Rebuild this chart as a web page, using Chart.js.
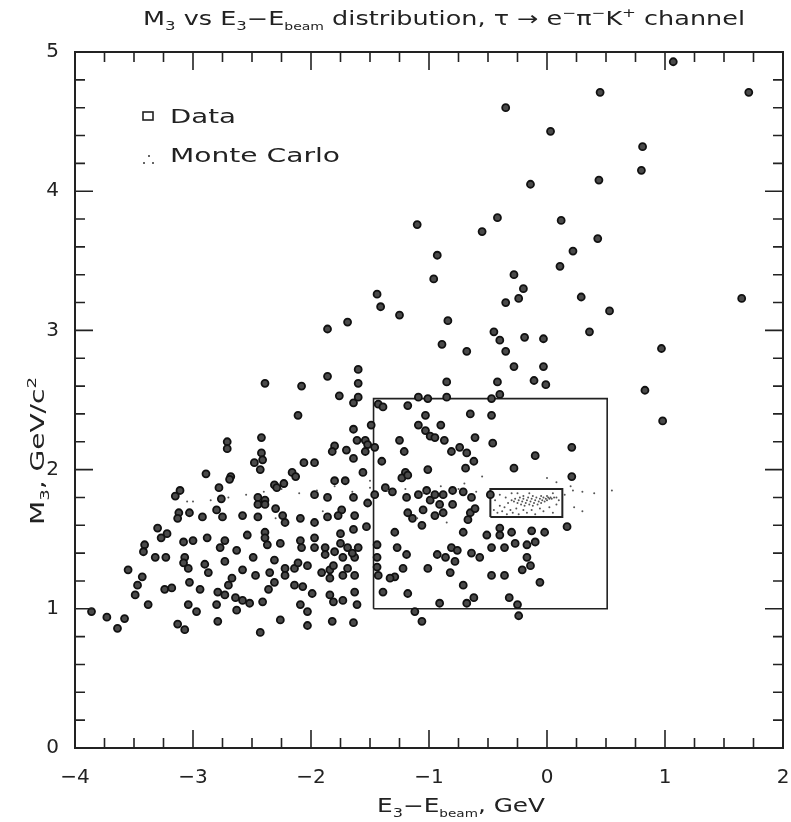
<!DOCTYPE html>
<html>
<head>
<meta charset="utf-8">
<script src="https://cdn.jsdelivr.net/npm/chart.js@4.4.0/dist/chart.umd.min.js"></script>
<style>
  html, body { margin: 0; padding: 0; background: #fff; }
</style>
</head>
<body>
<canvas id="scatterChart" width="791" height="822"></canvas>
<script>
// axis ticks
var xTicks = [-4, -3, -2, -1, 0, 1, 2];
var yTicks = [0, 1, 2, 3, 4, 5];

// data events [E3-Ebeam, M3]
var dataPts = [
  [1.07,4.93],[-0.35,4.60],[0.45,4.71],[1.71,4.71],[0.03,4.43],[0.81,4.32],[0.80,4.15],[0.44,4.08],[-0.14,4.05],
  [-1.10,3.76],[-0.55,3.71],[-0.42,3.81],[0.12,3.79],[0.43,3.66],
  [-0.93,3.54],[0.22,3.57],[0.11,3.46],[-0.96,3.37],[-0.28,3.40],[-0.20,3.30],[-1.44,3.26],[-0.24,3.23],[-0.35,3.20],
  [0.29,3.24],[1.65,3.23],[-1.41,3.17],[-1.25,3.11],[0.53,3.14],[-1.69,3.06],[-0.84,3.07],[-1.86,3.01],[0.36,2.99],
  [-0.45,2.99],[-0.40,2.93],[-0.19,2.95],[-0.03,2.94],[-0.89,2.90],[-0.68,2.85],[-0.35,2.85],[0.97,2.87],[-0.28,2.74],
  [-0.03,2.74],[-1.60,2.72],[-1.86,2.67],[-0.11,2.64],[-0.01,2.61],[-1.60,2.62],[-0.85,2.63],[-0.42,2.63],[-2.39,2.62],
  [-2.08,2.60],[0.83,2.57],[0.98,2.35],
  [-2.89,1.97],[-3.11,1.85],[-3.15,1.81],[-3.12,1.69],[-3.03,1.69],[-2.92,1.66],
  [-1.76,2.53],[-1.64,2.48],[-2.11,2.39],[-1.60,2.52],[-2.42,2.23],[-2.71,2.20],[-2.71,2.15],[-1.64,2.29],[-1.61,2.21],
  [-1.80,2.17],[-1.82,2.13],[-1.70,2.14],[-1.64,2.08],[-2.42,2.12],[-2.41,2.07],[-2.48,2.05],[-2.43,2.00],[-2.06,2.05],
  [-1.97,2.05],[-2.16,1.98],[-2.13,1.95],[-2.68,1.95],[-2.69,1.93],[-1.80,1.92],[-1.71,1.92],[-2.78,1.87],[-2.31,1.89],
  [-2.23,1.90],[-2.29,1.87],[-1.97,1.82],[-1.86,1.80],[-1.64,1.80],[-2.76,1.79],[-2.45,1.80],[-2.39,1.78],[-2.45,1.75],
  [-2.39,1.75],[-2.30,1.72],[-2.80,1.71],[-2.58,1.67],[-2.45,1.66],[-2.24,1.67],[-2.09,1.65],[-1.86,1.66],[-1.74,1.71],
  [-1.77,1.67],[-1.63,1.67],
  [-1.43,2.47],[-1.39,2.45],[-1.18,2.46],[-1.09,2.52],[-1.01,2.51],[-0.85,2.52],[-0.47,2.51],[-1.03,2.39],[-0.65,2.40],
  [-0.47,2.39],[-1.09,2.32],[-1.03,2.28],[-0.99,2.24],[-0.95,2.23],[-0.90,2.32],[-0.87,2.21],[-1.25,2.21],[-1.49,2.32],
  [-1.54,2.21],[-1.52,2.18],[-1.54,2.13],[-1.46,2.16],[-1.21,2.13],[-0.61,2.23],[-0.46,2.19],[-0.81,2.13],[-0.74,2.16],
  [-0.68,2.12],[-0.62,2.06],[-1.40,2.06],[-1.56,1.98],[-1.01,2.00],[-0.69,2.01],[-1.20,1.98],[-1.23,1.94],[-1.18,1.96],
  [-1.37,1.87],[-1.31,1.84],[-1.46,1.82],[-1.52,1.76],[-1.19,1.80],[-1.09,1.82],[-1.02,1.85],[-0.99,1.78],[-0.95,1.82],
  [-0.88,1.82],[-0.80,1.85],[-0.71,1.84],[-0.64,1.80],[-0.80,1.75],[-0.91,1.75],[-1.18,1.69],[-1.05,1.71],[-0.95,1.67],
  [-0.88,1.69],[-0.65,1.69],[-0.61,1.72],[-0.48,1.82],
  [-0.40,2.54],[-0.10,2.10],[0.21,2.16],[-0.28,2.01],[0.21,1.95],
  [-3.13,1.65],[-3.30,1.58],[-3.22,1.54],[-3.27,1.51],[-3.08,1.48],[-3.00,1.49],[-2.88,1.51],[-3.41,1.46],[-3.42,1.41],
  [-3.32,1.37],[-3.23,1.37],[-3.07,1.37],[-3.08,1.33],[-3.04,1.29],[-2.90,1.32],[-2.87,1.26],[-3.55,1.28],[-3.43,1.23],
  [-3.47,1.17],[-3.49,1.10],[-3.24,1.14],[-3.18,1.15],[-3.03,1.19],[-2.94,1.14],[-3.38,1.03],[-3.04,1.03],[-2.97,0.98],
  [-3.86,0.98],[-3.73,0.94],[-3.58,0.93],[-3.64,0.86],[-3.13,0.89],[-3.07,0.85],
  [-2.75,1.66],[-2.22,1.62],[-2.39,1.55],[-2.39,1.51],[-2.37,1.46],[-2.54,1.53],[-2.73,1.49],[-2.77,1.44],[-2.63,1.42],
  [-2.26,1.47],[-2.09,1.49],[-2.08,1.44],[-1.97,1.62],[-1.97,1.51],[-1.97,1.44],[-1.88,1.44],[-1.75,1.54],[-1.75,1.47],
  [-1.69,1.44],[-1.64,1.57],[-1.63,1.37],[-2.73,1.34],[-2.49,1.37],[-2.47,1.24],[-2.31,1.35],[-2.22,1.29],[-2.14,1.29],
  [-2.11,1.33],[-2.03,1.31],[-2.22,1.24],[-2.35,1.26],[-2.31,1.19],[-2.36,1.14],[-2.58,1.28],[-2.67,1.22],[-2.70,1.17],
  [-2.79,1.12],[-2.73,1.10],[-2.64,1.08],[-2.58,1.06],[-2.52,1.04],[-2.80,1.03],[-2.63,0.99],[-2.41,1.05],[-2.14,1.17],
  [-2.07,1.16],[-1.99,1.11],[-2.09,1.03],[-2.03,0.98],[-2.26,0.92],[-2.03,0.88],[-1.82,0.91],[-1.64,0.90],[-2.43,0.83],
  [-2.79,0.91],[-1.91,1.26],[-1.84,1.28],[-1.84,1.22],[-1.81,1.31],[-1.88,1.39],[-1.80,1.41],[-1.73,1.37],[-1.65,1.40],
  [-1.69,1.29],[-1.63,1.24],[-1.73,1.24],[-1.63,1.12],[-1.84,1.10],[-1.81,1.05],[-1.73,1.06],
  [-1.29,1.55],[-1.27,1.44],[-1.19,1.39],[-1.44,1.46],[-1.44,1.37],[-1.44,1.30],[-1.43,1.24],[-1.22,1.29],[-1.29,1.23],
  [-1.33,1.22],[-1.39,1.12],[-1.18,1.11],[-0.91,1.04],[-0.68,1.04],[-0.62,1.08],[-0.71,1.17],[-0.47,1.24],[-0.82,1.26],
  [-1.01,1.29],[-0.93,1.39],[-0.86,1.37],[-0.78,1.34],[-0.71,1.55],[-0.81,1.44],[-0.76,1.42],[-0.64,1.40],[-0.57,1.37],
  [-0.47,1.44],[-0.51,1.53],[-0.67,1.64],[-1.14,1.65],[-1.06,1.60],[-1.12,0.98],[-1.06,0.91],[-1.61,1.03],[-1.53,1.59],
  [-1.60,1.44],
  [0.17,1.59],[-0.02,1.55],[-0.13,1.56],[-0.30,1.55],[-0.40,1.58],[-0.40,1.53],[-0.27,1.47],[-0.17,1.46],[-0.10,1.48],
  [-0.36,1.44],[-0.17,1.37],[-0.14,1.31],[-0.21,1.28],[-0.36,1.24],[-0.06,1.19],[-0.32,1.08],[-0.25,1.03],[-0.24,0.95]
];

// Monte Carlo signal events
var mcPts = [
  [-0.30,1.78],[-0.28,1.77],[-0.27,1.79],[-0.25,1.76],[-0.24,1.78],[-0.23,1.80],[-0.22,1.75],[-0.21,1.77],[-0.20,1.79],
  [-0.19,1.74],[-0.18,1.76],[-0.17,1.78],[-0.16,1.80],[-0.15,1.75],[-0.14,1.77],[-0.13,1.79],[-0.12,1.74],[-0.11,1.76],
  [-0.10,1.78],[-0.09,1.80],[-0.08,1.75],[-0.07,1.77],[-0.06,1.79],[-0.05,1.76],[-0.04,1.78],[-0.03,1.80],[-0.02,1.77],
  [-0.01,1.79],[0.00,1.78],[0.01,1.80],[0.02,1.79],[0.03,1.80],[0.04,1.79],[0.06,1.80],[0.08,1.80],[-0.20,1.81],
  [-0.12,1.81],[-0.05,1.81],[0.00,1.81],
  [-0.45,1.71],[-0.42,1.69],[-0.40,1.74],[-0.38,1.70],[-0.36,1.73],[-0.34,1.68],[-0.33,1.76],[-0.31,1.71],[-0.29,1.69],
  [-0.26,1.72],[-0.24,1.68],[-0.20,1.71],[-0.17,1.69],[-0.13,1.71],[-0.10,1.68],[-0.06,1.72],[-0.03,1.70],[0.02,1.73],
  [0.05,1.69],[0.08,1.75],[-0.44,1.78],[-0.40,1.82],[-0.35,1.80],[-0.30,1.83],[-0.25,1.83],[-0.15,1.83],[0.05,1.83],
  [0.10,1.78],
  [0.15,1.82],[0.22,1.85],[0.30,1.84],[0.40,1.83],[0.55,1.85],[0.00,1.94],[0.08,1.91],[0.20,1.88],[0.23,1.73],
  [0.30,1.70],[-0.60,1.84],[-0.75,1.86],[-0.90,1.88],[-1.05,1.83],[-1.20,1.86],[-1.35,1.85],[-1.50,1.87],[-1.65,1.84],
  [-1.80,1.88],[-1.95,1.85],[-2.10,1.83],[-2.25,1.86],[-2.40,1.84],[-2.55,1.82],[-2.70,1.80],[-2.85,1.78],[-3.05,1.77],
  [-3.00,1.77],[-2.30,1.65],[-1.90,1.70],[-1.10,1.65],[-0.85,1.62],[-0.70,1.90],[-0.55,1.95],[-1.50,1.92]
];

// selection boxes (corners, closed)
var bigBox = [[-1.47,1.0],[0.51,1.0],[0.51,2.51],[-1.47,2.51],[-1.47,1.0]];
var smallBox = [[-0.48,1.66],[0.13,1.66],[0.13,1.86],[-0.48,1.86],[-0.48,1.66]];

var fontFam = "'DejaVu Sans', sans-serif";

function toXY(arr) {
    return arr.map(function (p) { return { x: p[0], y: p[1] }; });
}

// writes a string made of pieces (normal / sub / sup), stretched to a width
function richText(ctx, pieces, x, y, size, align, targetW) {
    var w = 0;
    pieces.forEach(function (p) {
        var s = p.k ? size * (p.k === 'b' ? 0.55 : 0.65) : size;
        ctx.font = s + "px " + fontFam;
        p.w = ctx.measureText(p.t).width;
        p.s = s;
        w += p.w;
    });
    var k = targetW ? targetW / w : 1;
    ctx.save();
    ctx.translate(align === 'center' ? x - w * k / 2 : x, y);
    ctx.scale(k, 1);
    ctx.textBaseline = 'alphabetic';
    ctx.textAlign = 'left';
    var cx = 0;
    pieces.forEach(function (p) {
        ctx.font = p.s + "px " + fontFam;
        var dy = 0;
        if (p.k === 'sub' || p.k === 'b') dy = size * 0.25;
        if (p.k === 'sup') dy = -size * 0.4;
        ctx.fillText(p.t, cx, dy);
        cx += p.w;
    });
    ctx.restore();
}

var framePlugin = {
    id: 'frame',
    afterDraw: function (chart) {
        var ctx = chart.ctx;
        var a = chart.chartArea;
        var xs = chart.scales.x, ys = chart.scales.y;
        ctx.save();
        ctx.strokeStyle = '#222';
        ctx.lineWidth = 2;
        ctx.strokeRect(a.left, a.top, a.right - a.left, a.bottom - a.top);
        ctx.lineWidth = 1.6;
        ctx.beginPath();
        var v, px, len;
        for (var i = 0; i <= 24; i++) {
            v = xs.min + i * 0.25;
            px = xs.getPixelForValue(v);
            len = (i % 4 === 0) ? 18 : 10;
            ctx.moveTo(px, a.bottom); ctx.lineTo(px, a.bottom - len);
            ctx.moveTo(px, a.top); ctx.lineTo(px, a.top + len);
        }
        for (var j = 0; j <= 25; j++) {
            v = ys.min + j * 0.2;
            px = ys.getPixelForValue(v);
            len = (j % 5 === 0) ? 18 : 10;
            ctx.moveTo(a.left, px); ctx.lineTo(a.left + len, px);
            ctx.moveTo(a.right, px); ctx.lineTo(a.right - len, px);
        }
        ctx.stroke();

        ctx.fillStyle = '#222';
        // title
        richText(ctx, [
            { t: 'M' }, { t: '3', k: 'sub' }, { t: ' vs E' }, { t: '3', k: 'sub' }, { t: '\u2212E' },
            { t: 'beam', k: 'b' }, { t: ' distribution, \u03c4 \u2192 e' }, { t: '\u2212', k: 'sup' },
            { t: '\u03c0' }, { t: '\u2212', k: 'sup' }, { t: 'K' }, { t: '+', k: 'sup' }, { t: ' channel' }
        ], 444, 25, 19, 'center', 602);

        // x axis title
        richText(ctx, [
            { t: 'E' }, { t: '3', k: 'sub' }, { t: '\u2212E' }, { t: 'beam', k: 'b' }, { t: ', GeV' }
        ], 461, 812, 19, 'center', 168);

        // y axis title
        ctx.save();
        ctx.translate(44, 451);
        ctx.rotate(-Math.PI / 2);
        richText(ctx, [
            { t: 'M' }, { t: '3', k: 'sub' }, { t: ', GeV/c' }, { t: '2', k: 'sup' }
        ], 0, 0, 19, 'center', 148);
        ctx.restore();

        // legend
        ctx.lineWidth = 1.6;
        ctx.strokeRect(143, 112, 10, 8);
        richText(ctx, [{ t: 'Data' }], 170, 123, 20, 'left', 66);
        richText(ctx, [{ t: 'Monte Carlo' }], 170, 162, 20, 'left', 170);
        ctx.fillStyle = '#666';
        [[148, 155], [143, 162], [152, 162]].forEach(function (d) {
            ctx.fillRect(d[0], d[1], 2, 2);
        });
        ctx.restore();
    }
};

var ctx = document.getElementById("scatterChart").getContext("2d");

var chart = new Chart(ctx, {
    type: 'scatter',
    data: {
        datasets: [{
            label: 'Monte Carlo',
            data: toXY(mcPts),
            pointRadius: 1,
            pointBackgroundColor: '#555',
            pointBorderWidth: 0
        }, {
            label: 'Data',
            data: toXY(dataPts),
            pointStyle: 'circle',
            pointRadius: 3.5,
            pointBackgroundColor: '#4a4a4a',
            pointBorderColor: '#111',
            pointBorderWidth: 1.8
        }, {
            type: 'line',
            label: 'box1',
            data: toXY(bigBox),
            showLine: true,
            fill: false,
            pointRadius: 0,
            borderColor: '#222',
            borderWidth: 1.6,
            tension: 0
        }, {
            type: 'line',
            label: 'box2',
            data: toXY(smallBox),
            showLine: true,
            fill: false,
            pointRadius: 0,
            borderColor: '#222',
            borderWidth: 2,
            tension: 0
        }]
    },
    options: {
        responsive: false,
        animation: false,
        layout: { padding: { top: 52, right: 8, left: 0, bottom: 0 } },
        plugins: {
            legend: { display: false },
            tooltip: { enabled: false }
        },
        scales: {
            x: {
                type: 'linear',
                min: -4,
                max: 2,
                grid: { display: false },
                border: { display: false },
                afterBuildTicks: function (s) { s.ticks = xTicks.map(function (v) { return { value: v }; }); },
                afterFit: function (s) { s.height = 74; s.paddingLeft = 0; s.paddingRight = 0; },
                ticks: {
                    padding: 10,
                    color: '#222',
                    font: { size: 20, family: fontFam },
                    callback: function (v) { return v < 0 ? '\u2212' + Math.abs(v) : '' + v; }
                }
            },
            y: {
                type: 'linear',
                min: 0,
                max: 5,
                grid: { display: false },
                border: { display: false },
                afterBuildTicks: function (s) { s.ticks = yTicks.map(function (v) { return { value: v }; }); },
                afterFit: function (s) { s.width = 75; s.paddingTop = 0; s.paddingBottom = 0; },
                ticks: {
                    padding: 8,
                    color: '#222',
                    font: { size: 20, family: fontFam },
                    callback: function (v) { return '' + v; }
                }
            }
        }
    },
    plugins: [framePlugin]
});
</script>
</body>
</html>
